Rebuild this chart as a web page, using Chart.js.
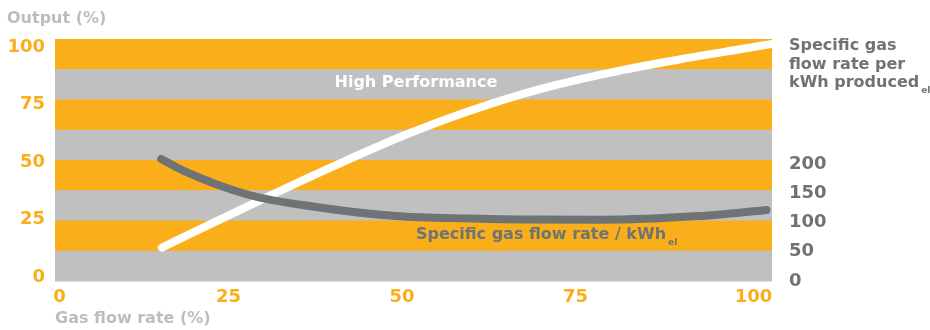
<!DOCTYPE html>
<html>
<head>
<meta charset="utf-8">
<script src="https://cdn.jsdelivr.net/npm/chart.js@4"></script>
<style>
  html, body { margin: 0; padding: 0; background: #ffffff; }
  #wrap { width: 930px; height: 330px; position: relative; }
</style>
</head>
<body>
<div id="wrap"><canvas id="c" width="930" height="330"></canvas></div>
<script>
// ---- data ----
const gasFlowHP = [15.4, 20, 30, 40, 50, 60, 70, 80, 90, 100, 103.3];
const outputHP  = [12.85, 19.5, 34.0, 48.0, 61.2, 72.5, 81.8, 88.9, 94.6, 99.7, 101.4];

const gasFlowSpec = [15.3, 18.3, 28, 37.6, 49.1, 60, 68.7, 78.4, 92.8, 102.5];
const specFlow    = [208.5, 189.7, 147, 126.5, 111, 106.8, 105, 104.8, 111, 121.4];

const xTicks  = [0, 25, 50, 75, 100];
const yTicks  = [0, 25, 50, 75, 100];
const y2Ticks = [0, 50, 100, 150, 200];

const seriesNames = ['High Performance', 'Specific gas flow rate / kWh'];
const leftTitle = 'Output (%)';
const bottomTitle = 'Gas flow rate (%)';
const rightTitleLines = ['Specific gas', 'flow rate per', 'kWh produced'];
const subscript = 'el';

// ---- styling ----
const ORANGE = '#f9ae1a';
const BAND_GREY = '#c0c0c0';
const DARK = '#6e7476';
const LIGHT_TEXT = '#bdbdbd';
const FONT = '"DejaVu Sans", sans-serif';

const bandsPlugin = {
  id: 'bands',
  beforeDatasetsDraw(chart) {
    const { ctx, chartArea: a } = chart;
    const n = 8, h = (a.bottom - a.top) / n;
    ctx.save();
    for (let i = 0; i < n; i++) {
      ctx.fillStyle = i % 2 === 0 ? ORANGE : BAND_GREY;
      ctx.fillRect(a.left, a.top + i * h, a.right - a.left, h + 0.5);
    }
    ctx.restore();
  }
};

const textPlugin = {
  id: 'texts',
  afterDraw(chart) {
    const { ctx, chartArea: a, scales } = chart;
    const xs = scales.x, ys = scales.y;
    ctx.save();
    ctx.textBaseline = 'middle';
    // axis titles
    ctx.font = 'bold 16px ' + FONT;
    ctx.fillStyle = LIGHT_TEXT;
    ctx.textAlign = 'left';
    ctx.fillText(leftTitle, 7, 19);
    ctx.fillText(bottomTitle, a.left, 319);

    // right title
    ctx.fillStyle = DARK;
    ctx.font = 'bold 16px ' + FONT;
    const rx = a.right + 17;
    const lineYs = [46, 65, 83];
    rightTitleLines.forEach((t, i) => ctx.fillText(t, rx, lineYs[i]));
    const w3 = ctx.measureText(rightTitleLines[2]).width;
    ctx.font = 'bold 9px ' + FONT;
    ctx.fillText(subscript, rx + w3 + 2, 91);

    // series labels
    ctx.font = 'bold 16px ' + FONT;
    ctx.fillStyle = '#ffffff';
    ctx.textAlign = 'center';
    ctx.fillText(seriesNames[0], xs.getPixelForValue(52), ys.getPixelForValue(84.4));

    ctx.fillStyle = DARK;
    ctx.textAlign = 'left';
    const sx = xs.getPixelForValue(52), sy = ys.getPixelForValue(18.3);
    ctx.fillText(seriesNames[1], sx, sy);
    const w = ctx.measureText(seriesNames[1]).width;
    ctx.font = 'bold 9px ' + FONT;
    ctx.fillText(subscript, sx + w + 2, sy + 8);
    ctx.restore();
  }
};

new Chart(document.getElementById('c'), {
  type: 'line',
  data: {
    datasets: [
      {
        label: seriesNames[1],
        data: gasFlowSpec.map((x, i) => ({ x, y: specFlow[i] })),
        yAxisID: 'y2',
        borderColor: DARK,
        borderWidth: 8,
        borderCapStyle: 'round',
        borderJoinStyle: 'round',
        pointRadius: 0,
        cubicInterpolationMode: 'monotone',
        order: 0
      },
      {
        label: seriesNames[0],
        data: gasFlowHP.map((x, i) => ({ x, y: outputHP[i] })),
        yAxisID: 'y',
        borderColor: '#ffffff',
        borderWidth: 8,
        borderCapStyle: 'round',
        borderJoinStyle: 'round',
        pointRadius: 0,
        cubicInterpolationMode: 'monotone',
        clip: 0,
        order: 1
      }
    ]
  },
  options: {
    responsive: false,
    animation: false,
    devicePixelRatio: 1,
    layout: { padding: { top: 39, left: 0, right: 0, bottom: 0 } },
    plugins: { legend: { display: false }, tooltip: { enabled: false } },
    scales: {
      x: {
        type: 'linear', min: 0, max: 103.3,
        afterBuildTicks: s => { s.ticks = xTicks.map(v => ({ value: v })); },
        afterFit: s => { s.height = 49; },
        grid: { display: false, drawTicks: false },
        border: { display: false },
        ticks: {
          color: ORANGE, font: { family: FONT, size: 18, weight: 'bold' }, padding: 6, maxRotation: 0,
          callback: v => (v === xTicks[0] || v === xTicks[xTicks.length - 1]) ? '\u2002' + v : String(v)
        }
      },
      y: {
        type: 'linear', position: 'left', min: -1.7, max: 103.5,
        afterBuildTicks: s => { s.ticks = yTicks.map(v => ({ value: v })); },
        afterFit: s => { s.width = 55; },
        grid: { display: false, drawTicks: false },
        border: { display: false },
        ticks: { color: ORANGE, font: { family: FONT, size: 18, weight: 'bold' }, padding: 10 }
      },
      y2: {
        type: 'linear', position: 'right', min: 0, max: 413.7,
        afterBuildTicks: s => { s.ticks = y2Ticks.map(v => ({ value: v })); },
        afterFit: s => { s.width = 158; },
        grid: { display: false, drawTicks: false },
        border: { display: false },
        ticks: { color: DARK, font: { family: FONT, size: 18, weight: 'bold' }, padding: 17 }
      }
    }
  },
  plugins: [bandsPlugin, textPlugin]
});
</script>
</body>
</html>
